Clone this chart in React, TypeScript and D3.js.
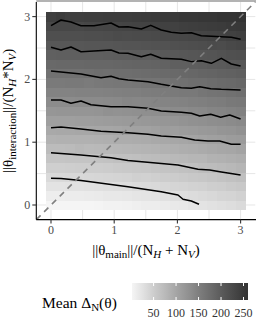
import * as d3 from 'd3';

// grid of the raster (x = main effect size, y = interaction size)
const gridX = [0, 0.15, 0.3, 0.45, 0.6, 0.75, 0.9, 1.05, 1.2, 1.35, 1.5, 1.65, 1.8, 1.95, 2.1, 2.25, 2.4, 2.55, 2.7, 2.85, 3];
const gridY = [0, 0.15, 0.3, 0.45, 0.6, 0.75, 0.9, 1.05, 1.2, 1.35, 1.5, 1.65, 1.8, 1.95, 2.1, 2.25, 2.4, 2.55, 2.7, 2.85, 3];

// mean Delta_N per tile, one row per gridY value (bottom row first)
const meanDelta = [
  [2, 2, 2, 2, 2, 3, 5, 6, 7, 9, 11, 12, 14, 16, 18, 21, 23, 26, 28, 31, 34],
  [11, 12, 13, 13, 14, 15, 17, 18, 19, 21, 22, 24, 26, 28, 30, 32, 35, 37, 40, 42, 45],
  [23, 24, 25, 25, 26, 27, 29, 30, 31, 33, 34, 36, 38, 40, 42, 44, 46, 49, 51, 54, 57],
  [35, 36, 37, 37, 38, 39, 40, 42, 43, 47, 46, 48, 50, 52, 54, 56, 58, 60, 63, 65, 68],
  [48, 48, 49, 50, 50, 51, 52, 54, 55, 56, 58, 60, 61, 63, 65, 67, 70, 72, 74, 77, 80],
  [60, 60, 61, 62, 62, 63, 64, 66, 67, 68, 70, 71, 73, 75, 77, 79, 79, 84, 86, 88, 91],
  [72, 72, 73, 76, 74, 75, 76, 78, 79, 80, 82, 83, 85, 87, 89, 91, 93, 95, 98, 100, 103],
  [84, 85, 85, 86, 86, 87, 88, 90, 91, 92, 93, 95, 97, 98, 100, 102, 105, 107, 109, 112, 114],
  [96, 97, 97, 98, 98, 99, 100, 101, 103, 104, 105, 107, 111, 110, 112, 114, 116, 118, 121, 123, 126],
  [108, 109, 109, 110, 110, 111, 112, 113, 115, 116, 117, 119, 120, 122, 124, 126, 128, 130, 132, 135, 137],
  [120, 121, 121, 122, 122, 123, 127, 125, 126, 128, 129, 130, 132, 134, 135, 137, 139, 142, 144, 146, 149],
  [133, 133, 133, 134, 135, 135, 136, 137, 141, 140, 141, 142, 144, 145, 147, 149, 151, 153, 155, 158, 160],
  [145, 145, 145, 146, 147, 147, 148, 149, 150, 151, 153, 154, 156, 157, 159, 158, 163, 165, 167, 169, 172],
  [157, 157, 158, 158, 156, 159, 160, 161, 162, 163, 165, 166, 167, 169, 171, 173, 174, 176, 179, 181, 183],
  [169, 169, 170, 170, 171, 174, 172, 173, 174, 175, 176, 178, 179, 181, 182, 184, 186, 188, 190, 192, 195],
  [181, 182, 182, 182, 183, 183, 184, 185, 186, 187, 188, 189, 191, 195, 194, 196, 198, 200, 202, 204, 206],
  [193, 194, 194, 194, 195, 195, 196, 197, 198, 199, 197, 201, 203, 204, 206, 208, 209, 211, 213, 216, 218],
  [206, 206, 206, 206, 207, 207, 208, 209, 210, 211, 212, 213, 214, 216, 217, 219, 221, 223, 222, 227, 229],
  [218, 218, 218, 218, 219, 219, 220, 224, 222, 223, 224, 225, 226, 228, 229, 231, 233, 234, 236, 239, 241],
  [230, 230, 230, 228, 231, 231, 232, 233, 234, 235, 236, 237, 238, 239, 241, 243, 244, 246, 248, 250, 252],
  [242, 246, 242, 242, 243, 243, 244, 245, 245, 246, 247, 249, 250, 251, 253, 254, 255, 256, 258, 259, 260],
];

// contour lines of the same surface
const contours = [
  [[0, 0.425], [0.158, 0.422], [0.475, 0.39], [1.218, 0.291], [1.745, 0.212], [2.009, 0.159], [2.089, 0.091], [2.22, 0.064], [2.342, 0.011]],
  [[0, 0.833], [0.475, 0.796], [0.949, 0.753], [1.218, 0.709], [2.009, 0.637], [2.326, 0.568], [2.511, 0.557], [2.695, 0.525], [3, 0.478]],
  [[0, 1.231], [0.158, 1.242], [0.475, 1.21], [0.791, 1.174], [1.218, 1.151], [1.535, 1.126], [1.745, 1.099], [2.062, 1.078], [2.274, 1.035], [2.484, 1.019], [2.669, 1.019], [2.853, 0.967], [3, 0.967]],
  [[0, 1.672], [0.158, 1.672], [0.316, 1.619], [0.475, 1.656], [0.633, 1.597], [0.949, 1.565], [1.218, 1.565], [1.535, 1.54], [1.745, 1.497], [2.062, 1.476], [2.22, 1.46], [2.353, 1.417], [2.527, 1.444], [2.685, 1.397], [2.828, 1.433], [3, 1.369]],
  [[0, 2.134], [0.475, 2.086], [0.791, 2.027], [0.949, 2.049], [1.076, 2.011], [1.218, 1.99], [1.535, 1.963], [1.745, 1.922], [1.903, 1.895], [2.062, 1.868], [2.22, 1.858], [2.353, 1.884], [2.527, 1.852], [2.695, 1.842], [3, 1.831]],
  [[0, 2.511], [0.158, 2.468], [0.316, 2.516], [0.475, 2.441], [0.949, 2.468], [1.076, 2.42], [1.218, 2.416], [1.429, 2.361], [1.578, 2.4], [1.745, 2.336], [2.062, 2.32], [2.22, 2.283], [2.378, 2.298], [2.536, 2.256], [2.695, 2.336], [2.853, 2.245], [3, 2.213]],
  [[0, 2.855], [0.158, 2.946], [0.316, 2.914], [0.475, 2.855], [0.68, 2.855], [0.95, 2.898], [1.076, 2.834], [1.218, 2.839], [1.429, 2.803], [1.578, 2.861], [1.745, 2.787], [1.903, 2.75], [2.062, 2.734], [2.22, 2.744], [2.378, 2.696], [2.695, 2.68], [2.853, 2.67], [3, 2.639]],
];

const majorTicks = [0, 1, 2, 3];
const minorTicks = [0.5, 1.5, 2.5];
const legendTicks = [50, 100, 150, 200, 250];
const legendRange = [2, 260];

const W = 256;
const H = 325;
const panel = { left: 36.3, right: 255.3, top: 2, bottom: 219.6 };
const serif = '"Liberation Serif", "DejaVu Serif", serif';

export default function App() {
  const half = 0.075;
  const pad = (3 + 2 * half) * 0.05;
  const x = d3.scaleLinear().domain([-half - pad, 3 + half + pad]).range([panel.left, panel.right]);
  const y = d3.scaleLinear().domain([-half - pad, 3 + half + pad]).range([panel.bottom, panel.top]);

  const fill = d3
    .scaleLinear<string>()
    .domain(legendRange)
    .range(['#f5f5f5', '#333333'])
    .interpolate(d3.interpolateLab);

  const line = d3
    .line<number[]>()
    .x((d) => x(d[0]))
    .y((d) => y(d[1]));

  const tileW = x(half) - x(-half);
  const tileH = y(-half) - y(half);

  // legend colour bar
  const bar = { x0: 132, x1: 248, y0: 283, y1: 300 };
  const lx = d3.scaleLinear().domain(legendRange).range([bar.x0, bar.x1]);
  const stops = d3.range(0, 1.0001, 0.1);

  const gridColor = '#e6e6e6';

  return (
    <svg width={W} height={H} style={{ position: 'absolute', left: 0, top: 0, background: '#fff' }}>
      <defs>
        <linearGradient id="bar" x1="0" x2="1" y1="0" y2="0">
          {stops.map((t) => (
            <stop key={t} offset={t} stopColor={fill(legendRange[0] + t * (legendRange[1] - legendRange[0]))} />
          ))}
        </linearGradient>
      </defs>

      {/* strip along the top of the panel */}
      <rect x={panel.left} y={0} width={W - panel.left} height={panel.top} fill="#b3b3b3" />

      {/* grid */}
      {[...majorTicks, ...minorTicks].map((t) => (
        <g key={`g${t}`}>
          <line x1={x(t)} x2={x(t)} y1={panel.top} y2={panel.bottom} stroke={gridColor} strokeWidth={1} />
          <line x1={panel.left} x2={panel.right} y1={y(t)} y2={y(t)} stroke={gridColor} strokeWidth={1} />
        </g>
      ))}

      {/* raster */}
      <g shapeRendering="crispEdges">
        {meanDelta.map((row, j) =>
          row.map((v, i) => (
            <rect
              key={`${i}-${j}`}
              x={x(gridX[i] - half)}
              y={y(gridY[j] + half)}
              width={tileW + 0.6}
              height={tileH + 0.6}
              fill={fill(v)}
            />
          ))
        )}
      </g>

      {/* contours */}
      {contours.map((c, k) => (
        <path key={k} d={line(c) || ''} fill="none" stroke="#000" strokeWidth={1.5} strokeLinejoin="round" />
      ))}

      {/* identity line */}
      <line
        x1={x(-half - pad)}
        y1={y(-half - pad)}
        x2={x(3 + half + pad)}
        y2={y(3 + half + pad)}
        stroke="#808080"
        strokeWidth={1.6}
        strokeDasharray="6,5"
      />

      {/* axes */}
      <line x1={panel.left} x2={panel.left} y1={panel.top} y2={panel.bottom} stroke="#000" strokeWidth={1.1} />
      <line x1={panel.left} x2={W} y1={panel.bottom} y2={panel.bottom} stroke="#000" strokeWidth={1.1} />
      {majorTicks.map((t) => (
        <g key={`t${t}`} fontFamily={serif} fontSize={12} fill="#4d4d4d">
          <line x1={panel.left - 4} x2={panel.left} y1={y(t)} y2={y(t)} stroke="#333" strokeWidth={1.1} />
          <text x={panel.left - 6} y={y(t) + 4} textAnchor="end">
            {t}
          </text>
          <line x1={x(t)} x2={x(t)} y1={panel.bottom} y2={panel.bottom + 4} stroke="#333" strokeWidth={1.1} />
          <text x={x(t)} y={panel.bottom + 14} textAnchor="middle">
            {t}
          </text>
        </g>
      ))}

      {/* axis titles */}
      <text x={146} y={255} textAnchor="middle" fontFamily={serif} fontSize={15} fill="#000">
        ||θ
        <tspan fontSize={11} dy={3}>main</tspan>
        <tspan dy={-3}>||/(N</tspan>
        <tspan fontSize={11} dy={3} fontStyle="italic">H</tspan>
        <tspan dy={-3}> + N</tspan>
        <tspan fontSize={11} dy={3} fontStyle="italic">V</tspan>
        <tspan dy={-3}>)</tspan>
      </text>
      <text
        transform={`translate(13,${(panel.top + panel.bottom) / 2}) rotate(-90)`}
        textAnchor="middle"
        fontFamily={serif}
        fontSize={15}
        fill="#000"
      >
        ||θ
        <tspan fontSize={11} dy={3}>interaction</tspan>
        <tspan dy={-3}>||/(N</tspan>
        <tspan fontSize={11} dy={3} fontStyle="italic">H</tspan>
        <tspan dy={-3}>*N</tspan>
        <tspan fontSize={11} dy={3} fontStyle="italic">V</tspan>
        <tspan dy={-3}>)</tspan>
      </text>

      {/* legend */}
      <text x={42} y={308} fontFamily={serif} fontSize={15.5} fill="#000">
        Mean Δ
        <tspan fontSize={11} dy={3}>N</tspan>
        <tspan dy={-3}>(θ)</tspan>
      </text>
      <rect x={bar.x0} y={bar.y0} width={bar.x1 - bar.x0} height={bar.y1 - bar.y0} fill="url(#bar)" />
      {legendTicks.map((t) => (
        <g key={`l${t}`}>
          <line x1={lx(t)} x2={lx(t)} y1={bar.y0} y2={bar.y0 + 3} stroke="#fff" strokeWidth={1} />
          <line x1={lx(t)} x2={lx(t)} y1={bar.y1 - 3} y2={bar.y1} stroke="#fff" strokeWidth={1} />
          <text x={lx(t)} y={bar.y1 + 17} textAnchor="middle" fontFamily={serif} fontSize={12} fill="#333">
            {t}
          </text>
        </g>
      ))}
    </svg>
  );
}
